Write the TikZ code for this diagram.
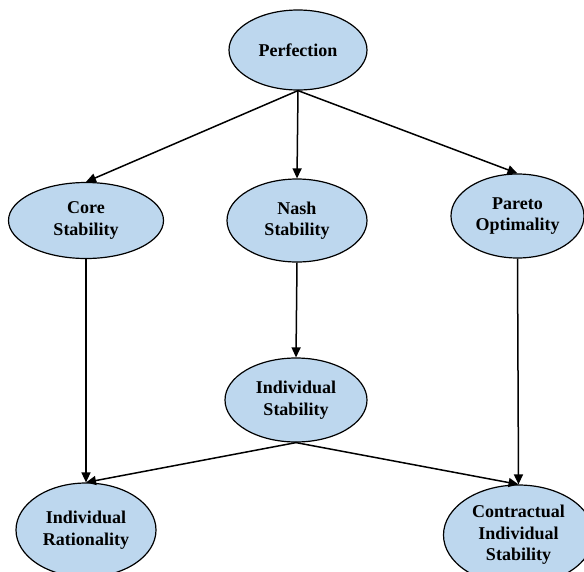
\documentclass[tikz,border=0pt]{standalone}
\usepackage{fontspec}
\setmainfont{Liberation Serif}
\usetikzlibrary{shapes.geometric,arrows.meta}
\definecolor{conceptfill}{RGB}{189,215,238}
\begin{document}
\begin{tikzpicture}[x=1pt,y=-1pt,
  concept/.style={ellipse, draw=black, line width=1.2pt, fill=conceptfill,
    inner sep=0pt, align=center,
    font=\fontsize{18}{21.5}\selectfont\bfseries},
  implies/.style={-{Triangle[length=10pt,width=9pt]}, line width=1.5pt}]
  \useasboundingbox (0,0) rectangle (584,571);

  \node[concept, minimum width=138pt, minimum height=80pt] (perf) at (298,50) {Perfection};
  \node[concept, minimum width=155pt, minimum height=76pt] (core) at (86,220.5) {Core\\Stability};
  \node[concept, minimum width=140pt, minimum height=83pt] (nash) at (297,220.5) {Nash\\Stability};
  \node[concept, minimum width=133pt, minimum height=84pt] (pareto) at (517.5,216) {Pareto\\Optimality};
  \node[concept, minimum width=142pt, minimum height=84pt] (indstab) at (296,400) {Individual\\Stability};
  \node[concept, minimum width=140pt, minimum height=94pt] (indrat) at (86,530) {Individual\\Rationality};
  \node[concept, minimum width=150pt, minimum height=100pt] (contract) at (518.5,535) {Contractual\\Individual\\Stability};

  \draw[implies] (perf.south) -- (core.north);
  \draw[implies] (perf.south) -- (nash.north);
  \draw[implies] (perf.south) -- (pareto.north);
  \draw[implies] (core.south) -- (indrat.north);
  \draw[implies] (nash.south) -- (indstab.north);
  \draw[implies] (pareto.south) -- (contract.north);
  \draw[implies] (indstab.south) -- (indrat.north);
  \draw[implies] (indstab.south) -- (contract.north);
\end{tikzpicture}
\end{document}
